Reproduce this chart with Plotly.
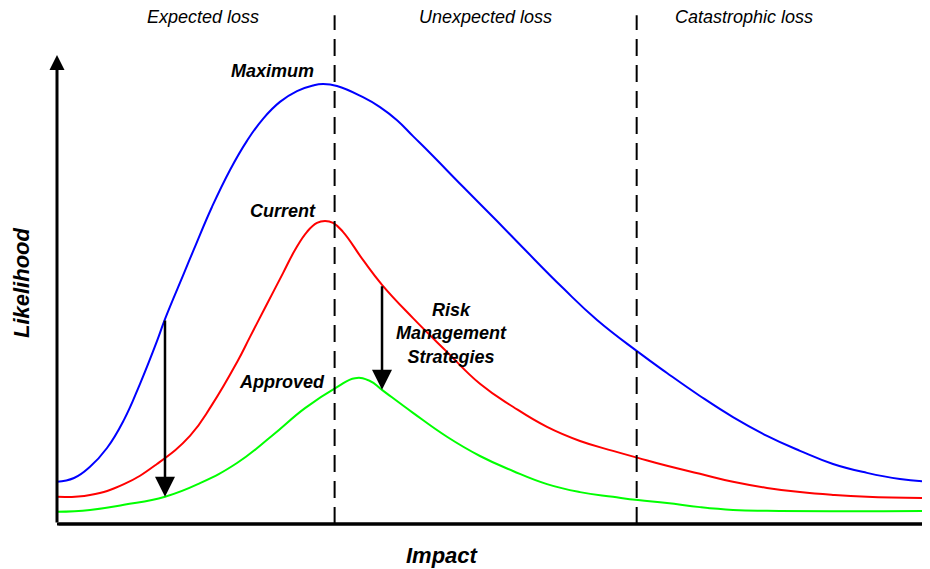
import plotly.graph_objects as go

# ---- data (Impact 0-100, Likelihood 0-100) ----
max_x = [0, 1.95, 3.78, 5.73, 7.67, 9.51, 11.45, 12.37, 14.55, 15.69, 17.75, 19.82, 21.76, 23.60,
         25.54, 27.49, 29.32, 30.47, 32.07, 35.05, 37.00, 38.95, 40.78, 42.73, 46.51, 50.40, 53.38,
         57.96, 61.86, 66.55, 69.87, 73.65, 77.43, 81.33, 85.11, 88.89, 92.78, 96.56, 100]
max_y = [9.0, 9.8, 12.2, 16.2, 22.2, 29.9, 39.0, 43.7, 53.5, 58.6, 67.6, 75.5, 81.7, 86.4,
         90.0, 92.3, 93.5, 93.8, 93.4, 91.0, 88.9, 86.1, 82.7, 79.1, 71.9, 64.6, 58.9,
         50.3, 43.5, 36.7, 32.2, 27.3, 22.8, 18.8, 15.6, 12.8, 10.9, 9.6, 9.0]

cur_x = [0, 3.78, 7.67, 11.45, 15.23, 17.75, 20.62, 22.11, 23.83, 25.89, 27.26, 28.64,
         29.78, 30.70, 31.62, 32.76, 35.05, 37.23, 40.78, 44.67, 48.45, 52.23, 56.13, 59.91,
         63.69, 66.55, 69.87, 73.65, 77.43, 81.33, 85.11, 88.89, 92.78, 100]
cur_y = [5.8, 6.2, 8.5, 12.8, 18.8, 25.4, 34.5, 39.9, 46.1, 53.5, 58.4, 62.3,
         64.2, 64.6, 64.2, 62.3, 56.3, 51.0, 43.9, 36.7, 29.9, 25.0, 20.7, 17.7,
         15.6, 14.1, 12.4, 10.7, 9.0, 7.7, 6.8, 6.2, 5.8, 5.5]

app_x = [0, 3.78, 7.67, 12.37, 16.38, 20.62, 24.63, 28.41, 32.07, 34.14, 35.85, 37.23, 40.78,
         44.67, 48.45, 52.23, 56.13, 59.91, 63.69, 66.55, 69.87, 73.65, 77.43, 81.33, 100]
app_y = [2.6, 3.0, 4.1, 5.8, 8.7, 13.0, 18.8, 24.7, 29.2, 31.1, 30.5, 28.6, 23.7,
         18.6, 14.5, 11.3, 8.5, 6.8, 5.8, 5.1, 4.5, 3.6, 3.0, 2.8, 2.8]

series_names = ["Maximum", "Current", "Approved"]
series_colors = ["#0000FF", "#FF0000", "#00FF00"]

zone_labels = ["Expected loss", "Unexpected loss", "Catastrophic loss"]
zone_label_x = [16.7, 49.1, 78.7]
zone_bounds = [31.8, 66.4]

# reduction arrows: (impact, from likelihood, to likelihood)
arrow_x = [12.37, 37.23]
arrow_from = [43.7, 51.0]
arrow_to = [5.8, 28.6]

FONT = "Liberation Sans, Arial, sans-serif"

fig = go.Figure()
for xs, ys, name, col in zip([max_x, cur_x, app_x], [max_y, cur_y, app_y], series_names, series_colors):
    fig.add_trace(go.Scatter(x=xs, y=ys, mode="lines", name=name,
                             line=dict(color=col, width=2, shape="spline", smoothing=1.3),
                             hoverinfo="skip"))

annotations = []
# axis arrows
annotations.append(dict(x=0, y=100, ax=0, ay=0, xref="x", yref="y", axref="x", ayref="y",
                        text="", showarrow=True, arrowhead=2, arrowsize=1, arrowwidth=3,
                        arrowcolor="black"))
annotations.append(dict(x=101.2, y=0, ax=0, ay=0, xref="x", yref="y", axref="x", ayref="y",
                        text="", showarrow=True, arrowhead=2, arrowsize=1, arrowwidth=3,
                        arrowcolor="black"))
for xa, yf, yt in zip(arrow_x, arrow_from, arrow_to):
    annotations.append(dict(x=xa, y=yt, ax=xa, ay=yf, xref="x", yref="y", axref="x", ayref="y",
                            text="", showarrow=True, arrowhead=2, arrowsize=1.6, arrowwidth=2.5,
                            arrowcolor="black"))
for lab, lx in zip(zone_labels, zone_label_x):
    annotations.append(dict(x=lx, y=1.081, xref="x", yref="paper", text=f"<i>{lab}</i>",
                            showarrow=False, font=dict(family=FONT, size=18, color="black"),
                            xanchor="center", yanchor="middle"))
curve_labels = [("Maximum", 24.7, 96.6), ("Current", 25.9, 66.7), ("Approved", 25.8, 30.3)]
for lab, lx, ly in curve_labels:
    annotations.append(dict(x=lx, y=ly, xref="x", yref="y", text=f"<b><i>{lab}</i></b>",
                            showarrow=False, font=dict(family=FONT, size=18, color="black"),
                            xanchor="center", yanchor="middle"))
annotations.append(dict(x=45.2, y=40.7, xref="x", yref="y",
                        text="<b><i>Risk<br>Management<br>Strategies</i></b>", align="center",
                        showarrow=False, font=dict(family=FONT, size=18, color="black"),
                        xanchor="center", yanchor="middle"))
annotations.append(dict(x=0.442, y=-0.068, xref="paper", yref="paper", text="<b><i>Impact</i></b>",
                        showarrow=False, font=dict(family=FONT, size=22, color="black"),
                        xanchor="center", yanchor="middle"))
annotations.append(dict(x=-0.040, y=0.514, xref="paper", yref="paper", text="<b><i>Likelihood</i></b>",
                        textangle=-90, showarrow=False, font=dict(family=FONT, size=22, color="black"),
                        xanchor="center", yanchor="middle"))

shapes = []
for xb in zone_bounds:
    shapes.append(dict(type="line", x0=xb, x1=xb, y0=0, y1=1.085, xref="x", yref="paper",
                       line=dict(color="black", width=2, dash="17px,9px")))
# x axis line running to the right edge
shapes.append(dict(type="line", x0=0, x1=1, y0=0, y1=0, xref="paper", yref="paper",
                   line=dict(color="black", width=3)))

# page body has an 8px default margin; the figure is sized to fill the rest of the window
fig.update_layout(
    width=922, height=561,
    margin=dict(l=49, r=0, t=47, b=45),
    paper_bgcolor="white", plot_bgcolor="white",
    showlegend=False,
    xaxis=dict(range=[0, 100], visible=False, fixedrange=True),
    yaxis=dict(range=[0, 100], visible=False, fixedrange=True),
    annotations=annotations,
    shapes=shapes,
    font=dict(family=FONT),
)

fig.write_html("out.html")
